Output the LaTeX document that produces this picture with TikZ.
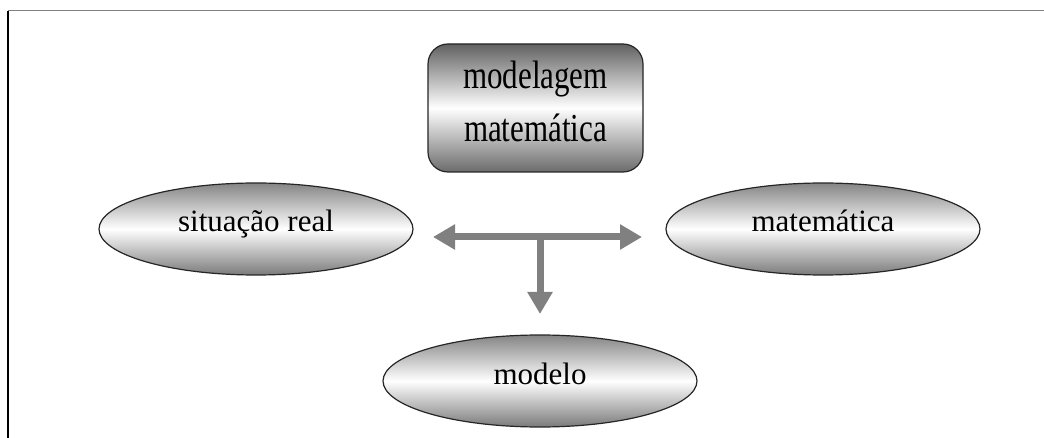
\documentclass[tikz,border=0pt]{standalone}
\usepackage{fontspec}
\setmainfont{Liberation Serif}
\usetikzlibrary{shapes.geometric,arrows.meta}
\newcommand{\tallline}[1]{\scalebox{1}[1.28]{#1}}
\begin{document}
\begin{tikzpicture}[x=1pt,y=-1pt,
  ovalbox/.style={ellipse, draw=black!85, line width=1.2pt, minimum width=314pt, minimum height=92pt, inner sep=0pt,
    top color=black!48, bottom color=black!52, middle color=white,
    text height=15pt, text depth=9pt,
    font=\fontsize{31pt}{38pt}\selectfont},
  titlebox/.style={draw=black!85, line width=1.2pt, rounded corners=20pt, minimum width=215pt, minimum height=128pt, inner sep=0pt,
    top color=black!62, bottom color=black!58, middle color=white,
    align=center, font=\fontsize{31pt}{53pt}\selectfont},
  conn/.style={draw=black!50, line width=7pt, -{Triangle[length=22pt,width=24pt]}}]
\useasboundingbox (0,0) rectangle (1044,438);
\fill[white] (0,0) rectangle (1044,438);
% frame
\draw[black!50, line width=1pt] (8,11) -- (1044,11);
\draw[black, line width=2pt] (8,11) -- (8,438);
% nodes
\node[titlebox] (mm) at (535.5,108) {\tallline{modelagem}\\\tallline{matemática}\rule[-14pt]{0pt}{14pt}};
\node[ovalbox] (sr) at (256,229) {situação real\hspace{20pt}};
\node[ovalbox] (mt) at (823,229) {matemática\hspace{20pt}};
\node[ovalbox] (md) at (540,381) {modelo};
% connectors
\coordinate (hl) at (433,237);
\coordinate (hr) at (642,237);
\coordinate (j) at (540,237);
\coordinate (dn) at (540,314);
\draw[conn, {Triangle[length=22pt,width=24pt]}-{Triangle[length=22pt,width=24pt]}] (hl) -- (hr);
\draw[conn] ([yshift=-3.5pt]j) -- (dn);
\end{tikzpicture}
\end{document}
